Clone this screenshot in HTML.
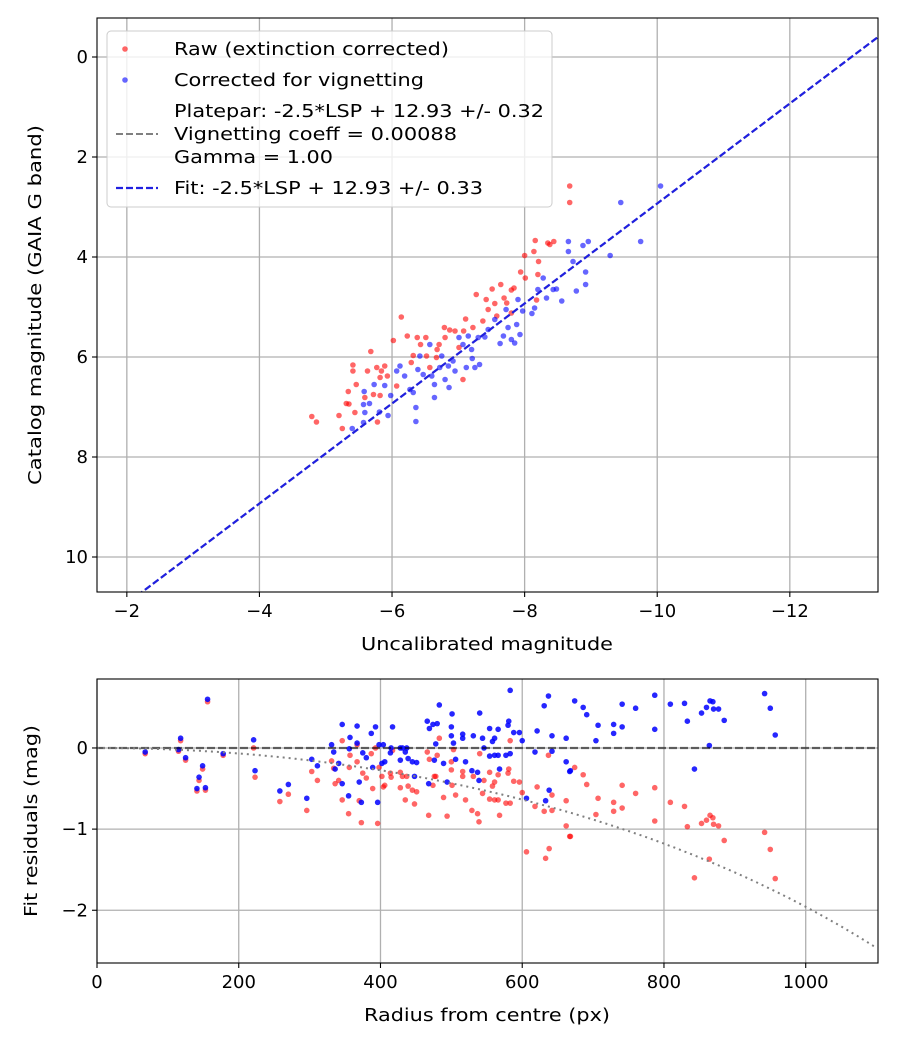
<!DOCTYPE html>
<html><head><meta charset="utf-8">
<style>
html,body{margin:0;padding:0;background:#fff;}
svg{display:block;font-family:"DejaVu Sans","Liberation Sans",sans-serif;}
</style></head>
<body>
<svg id="fig" width="900" height="1050" viewBox="0 0 900 1050" xmlns="http://www.w3.org/2000/svg">
<rect width="900" height="1050" fill="#fff"/>
<g id="topchart"></g>
<g id="botchart"></g>
</svg>
<script>
// ---- Top chart data (uncalibrated mag, catalog mag) ----
const rawX = [-4.79,-4.86,-5.25,-5.20,-5.31,-5.35,-5.34,-5.41,-5.41,-5.46,-5.44,-5.59,-5.63,-5.68,-5.72,-5.78,-5.77,-5.82,-5.84,-5.89,-5.93,-5.82,-6.02,-6.14,-6.07,-6.23,-6.29,-6.32,-6.38,-6.43,-6.51,-6.52,-6.57,-6.67,-6.71,-6.68,-6.80,-6.79,-6.87,-6.95,-7.01,-7.08,-7.11,-7.22,-7.07,-7.27,-7.37,-7.42,-7.45,-7.51,-7.55,-7.58,-7.64,-7.69,-7.73,-7.80,-7.84,-7.94,-8.01,-8.00,-8.14,-8.16,-8.21,-8.20,-8.35,-8.44,-8.38,-8.18,-7.80,-8.68,-8.68];
const rawY = [7.19,7.30,7.43,7.17,6.93,6.94,6.69,6.16,6.28,6.55,7.11,6.81,6.28,5.89,6.75,7.30,6.21,6.41,6.28,6.18,6.38,6.77,5.67,5.20,6.58,5.58,6.11,5.97,5.61,5.75,5.61,5.98,6.21,6.01,5.75,5.85,5.61,5.41,5.46,5.48,5.81,5.48,5.24,5.41,6.45,4.75,5.28,4.85,5.05,4.64,4.93,5.18,4.55,4.82,4.92,4.66,4.62,4.30,4.42,3.97,3.89,3.67,4.09,4.35,3.72,3.69,3.75,4.86,5.12,2.58,2.91];
const corX = [-5.40,-5.57,-5.59,-5.57,-5.58,-5.66,-5.73,-5.81,-5.94,-5.89,-5.98,-6.07,-6.12,-6.19,-6.27,-6.32,-6.36,-6.36,-6.39,-6.42,-6.47,-6.57,-6.60,-6.64,-6.64,-6.72,-6.75,-6.80,-6.85,-6.86,-6.92,-6.95,-7.01,-7.07,-7.12,-7.15,-7.20,-7.21,-7.25,-7.30,-7.32,-7.40,-7.45,-7.55,-7.63,-7.68,-7.72,-7.75,-7.80,-7.85,-7.88,-7.93,-7.90,-7.97,-8.11,-8.15,-8.20,-8.28,-8.33,-8.43,-8.48,-8.56,-8.66,-8.66,-8.73,-8.78,-8.88,-8.92,-8.92,-8.96,-9.29,-9.45,-10.05,-9.75];
const corY = [7.43,7.31,7.11,6.95,6.69,6.93,6.55,7.10,7.17,6.57,6.77,6.28,6.18,6.38,6.65,6.71,7.01,7.29,6.25,5.98,6.35,5.75,6.38,6.55,6.81,6.21,5.98,6.45,6.18,6.61,6.08,6.28,5.61,5.75,6.21,5.58,5.85,6.03,6.21,5.61,6.15,5.60,5.45,5.25,5.73,5.58,5.05,5.41,5.65,5.72,5.35,5.55,4.85,5.08,5.13,5.02,4.65,4.42,4.82,4.65,4.64,4.88,3.69,3.89,4.09,4.68,3.77,4.30,4.55,3.69,3.97,2.91,2.58,3.69];
const fitOffset = 12.93;
const xTicksTop = [-2,-4,-6,-8,-10,-12];
const yTicksTop = [0,2,4,6,8,10];

// ---- Bottom chart data (radius px, residual mag) ----
const radius = [68,118,115,125,149,144,141,153,156,178,221,223,258,270,296,303,311,331,334,336,341,346,346,355,357,356,367,367,370,373,375,380,387,389,393,396,398,404,402,406,414,417,415,428,428,431,435,437,439,445,448,451,466,469,474,480,478,483,468,476,489,494,500,500,501,503,506,516,516,520,529,531,537,539,540,544,546,554,554,558,561,561,566,566,568,577,580,581,583,583,588,596,600,606,618,621,631,637,633,638,642,642,662,662,667,674,686,691,707,704,729,729,741,741,760,787,787,809,829,833,843,853,860,865,869,870,877,864,885,942,950,957,668];
const rawRes = [-0.07,0.09,-0.04,-0.15,-0.26,-0.40,-0.53,-0.52,0.57,-0.09,0.00,-0.36,-0.66,-0.57,-0.77,-0.29,-0.40,-0.16,-0.25,-0.44,-0.40,0.09,-0.64,-0.81,-0.09,-0.24,-0.17,0.04,-0.65,-0.92,-0.31,-0.37,-0.07,-0.50,0.00,-0.93,-0.24,-0.48,-0.35,-0.46,-0.31,-0.03,-0.36,-0.30,-0.49,-0.35,-0.64,-0.35,-0.47,-0.52,-0.69,-0.54,-0.05,-0.14,-0.46,-0.09,-0.35,0.12,-0.83,-0.35,-0.61,-0.84,-0.27,-0.17,-0.46,-0.02,-0.58,-0.35,-0.29,-0.64,-0.77,-0.35,-0.81,-0.91,-0.07,-0.56,-0.40,-0.30,-0.63,-0.47,-0.42,-0.64,-0.64,-0.33,-0.83,-0.68,-0.31,-0.26,0.09,-0.68,-0.41,-0.42,-0.55,-1.28,-0.72,-0.48,-0.78,-0.09,-1.36,-1.24,-0.77,-0.58,-0.96,-0.65,-1.09,-0.24,-0.33,-0.45,-0.62,-0.82,-0.67,-0.78,-0.46,-0.74,-0.56,-0.49,-0.90,-0.67,-0.72,-0.97,-1.60,-0.93,-0.89,-0.83,-0.86,-0.94,-0.96,-1.37,-1.14,-1.04,-1.25,-1.61,-1.09];
const corRes = [-0.05,0.12,-0.02,-0.12,-0.22,-0.36,-0.50,-0.49,0.60,-0.07,0.10,-0.28,-0.53,-0.45,-0.62,-0.14,-0.22,0.04,-0.05,-0.26,-0.19,0.29,-0.44,-0.59,0.13,-0.01,0.06,0.27,-0.42,-0.67,-0.06,-0.12,0.18,-0.24,0.26,-0.67,0.04,0.04,-0.19,-0.17,-0.06,0.26,0.00,0.00,-0.15,0.00,-0.05,0.00,-0.13,-0.17,-0.35,-0.18,0.33,0.24,0.29,0.30,0.05,0.53,-0.44,-0.15,-0.19,-0.42,0.26,0.15,0.42,0.06,-0.14,0.17,0.12,-0.17,-0.28,0.15,-0.30,-0.40,0.43,0.12,0.00,0.24,-0.10,0.08,0.12,-0.09,-0.09,0.23,-0.26,-0.09,0.28,0.33,0.71,-0.07,0.19,0.19,0.09,-0.62,-0.05,0.21,0.52,0.64,-0.65,-0.52,0.15,-0.04,-0.17,0.12,-0.29,0.58,0.50,0.41,0.28,0.09,0.29,0.18,0.54,0.26,0.49,0.65,0.23,0.54,0.55,0.33,-0.26,0.43,0.50,0.58,0.57,0.48,0.48,0.03,0.34,0.67,0.49,0.16,-0.28];
const vignCoeff = 0.00088;
const xTicksBot = [0,200,400,600,800,1000];
const yTicksBot = [0,-1,-2];

const NS = "http://www.w3.org/2000/svg";
function mk(parent, tag, attrs, text){
  const e = document.createElementNS(NS, tag);
  for (const k in attrs) e.setAttribute(k, attrs[k]);
  if (text !== undefined) e.textContent = text;
  parent.appendChild(e);
  return e;
}
function lbl(parent, x, y, len, text, extra){
  const a = Object.assign({x:x,y:y,'font-size':17.5,textLength:len,lengthAdjust:'spacingAndGlyphs'}, extra||{});
  return mk(parent,'text',a,text);
}

// ===== TOP =====
const T = {l:97, r:878, t:18, b:592, x0:-1.55, x1:-13.33, y0:-0.78, y1:10.7};
const tx = v => T.l + (v - T.x0) / (T.x1 - T.x0) * (T.r - T.l);
const ty = v => T.t + (v - T.y0) / (T.y1 - T.y0) * (T.b - T.t);
const topG = document.getElementById('topchart');
xTicksTop.forEach(v => {
  const g = mk(topG,'g',{});
  
  
  mk(g,'line',{x1:tx(v),x2:tx(v),y1:T.t,y2:T.b,stroke:'#b0b0b0','stroke-width':1.3});
  mk(g,'line',{x1:tx(v),x2:tx(v),y1:T.b,y2:T.b+5,stroke:'#000','stroke-width':1.1});
  mk(g,'text',{x:tx(v),y:T.b+25,'text-anchor':'middle','font-size':18},(v<0?'\u2212'+(-v):v));
});
yTicksTop.forEach(v => {
  const g = mk(topG,'g',{});
  
  
  mk(g,'line',{x1:T.l,x2:T.r,y1:ty(v),y2:ty(v),stroke:'#b0b0b0','stroke-width':1.3});
  mk(g,'line',{x1:T.l-5,x2:T.l,y1:ty(v),y2:ty(v),stroke:'#000','stroke-width':1.1});
  mk(g,'text',{x:T.l-9,y:ty(v)+6,'text-anchor':'end','font-size':18},v);
});
const cp = mk(mk(topG,'defs',{}),'clipPath',{id:'cpTop'});
mk(cp,'rect',{x:T.l,y:T.t,width:T.r-T.l,height:T.b-T.t});
const tp = mk(topG,'g',{'clip-path':'url(#cpTop)'});
rawX.forEach((x,i) => {
  const c = mk(tp,'circle',{cx:tx(x),cy:ty(rawY[i]),r:2.8,fill:'#ff0000','fill-opacity':0.6});
  
  
});
corX.forEach((x,i) => {
  const c = mk(tp,'circle',{cx:tx(x),cy:ty(corY[i]),r:2.8,fill:'#0000ff','fill-opacity':0.6});
  
  
});
const plate = mk(tp,'line',{x1:tx(T.x0),y1:ty(T.x0+fitOffset),x2:tx(T.x1),y2:ty(T.x1+fitOffset),stroke:'#808080','stroke-width':2,'stroke-dasharray':'7,3'});


const fit = mk(tp,'line',{x1:tx(T.x0),y1:ty(T.x0+fitOffset),x2:tx(T.x1),y2:ty(T.x1+fitOffset),stroke:'#2020e0','stroke-width':2.2,'stroke-dasharray':'7,3'});


mk(topG,'rect',{x:T.l,y:T.t,width:T.r-T.l,height:T.b-T.t,fill:'none',stroke:'#000','stroke-width':1.1});
// legend
const lg = mk(topG,'g',{});


mk(lg,'rect',{x:107,y:31,width:445,height:176,rx:4,fill:'#fff','fill-opacity':0.8,stroke:'#ccc'});
mk(lg,'circle',{cx:125,cy:49,r:2.8,fill:'#ff0000','fill-opacity':0.6});
lbl(lg,174,55,275,'Raw (extinction corrected)');
mk(lg,'circle',{cx:125,cy:80,r:2.8,fill:'#0000ff','fill-opacity':0.6});
lbl(lg,174,86,250,'Corrected for vignetting');
mk(lg,'line',{x1:116,x2:158,y1:134,y2:134,stroke:'#808080','stroke-width':2,'stroke-dasharray':'7,3'});
lbl(lg,174,117,370,'Platepar: -2.5*LSP + 12.93 +/- 0.32');
lbl(lg,174,140,283,'Vignetting coeff = 0.00088');
lbl(lg,174,163,159,'Gamma = 1.00');
mk(lg,'line',{x1:116,x2:158,y1:188,y2:188,stroke:'#2020e0','stroke-width':2.2,'stroke-dasharray':'7,3'});
lbl(lg,174,194,309,'Fit: -2.5*LSP + 12.93 +/- 0.33');
const xl1 = lbl(topG,361,650,252,'Uncalibrated magnitude');


const yl1 = lbl(topG,-180,0,360,'Catalog magnitude (GAIA G band)',{transform:'translate(41,305) rotate(-90)'});



// ===== BOTTOM =====
const B = {l:97, r:878, t:679, b:963, x0:0, x1:1102, y0:0.85, y1:-2.65};
const bx = v => B.l + (v - B.x0) / (B.x1 - B.x0) * (B.r - B.l);
const by = v => B.t + (v - B.y0) / (B.y1 - B.y0) * (B.b - B.t);
const botG = document.getElementById('botchart');
xTicksBot.forEach(v => {
  const g = mk(botG,'g',{});
  
  
  mk(g,'line',{x1:bx(v),x2:bx(v),y1:B.t,y2:B.b,stroke:'#b0b0b0','stroke-width':1.3});
  mk(g,'line',{x1:bx(v),x2:bx(v),y1:B.b,y2:B.b+5,stroke:'#000','stroke-width':1.1});
  mk(g,'text',{x:bx(v),y:B.b+25,'text-anchor':'middle','font-size':18},v);
});
yTicksBot.forEach(v => {
  const g = mk(botG,'g',{});
  
  
  mk(g,'line',{x1:B.l,x2:B.r,y1:by(v),y2:by(v),stroke:'#b0b0b0','stroke-width':1.3});
  mk(g,'line',{x1:B.l-5,x2:B.l,y1:by(v),y2:by(v),stroke:'#000','stroke-width':1.1});
  mk(g,'text',{x:B.l-9,y:by(v)+6,'text-anchor':'end','font-size':18},(v<0?'\u2212'+(-v):v));
});
const cp2 = mk(mk(botG,'defs',{}),'clipPath',{id:'cpBot'});
mk(cp2,'rect',{x:B.l,y:B.t,width:B.r-B.l,height:B.b-B.t});
const bp = mk(botG,'g',{'clip-path':'url(#cpBot)'});
radius.forEach((r,i) => {
  const c = mk(bp,'circle',{cx:bx(r),cy:by(rawRes[i]),r:2.8,fill:'#ff0000','fill-opacity':0.6});
  
  
});
radius.forEach((r,i) => {
  const c = mk(bp,'circle',{cx:bx(r),cy:by(corRes[i]),r:2.8,fill:'#0000ff','fill-opacity':0.85});
  
  
});
const zl = mk(bp,'line',{x1:B.l,x2:B.r,y1:by(0),y2:by(0),stroke:'#000','stroke-opacity':0.55,'stroke-width':2.2,'stroke-dasharray':'8,3'});


let d = '';
for (let r = 0; r <= 1102; r += 5) {
  const v = 10 * Math.log10(Math.cos(vignCoeff * r));
  d += (r ? 'L' : 'M') + bx(r).toFixed(1) + ',' + by(v).toFixed(1);
}
const vc = mk(bp,'path',{d:d,fill:'none',stroke:'#808080','stroke-width':2,'stroke-dasharray':'2,4'});


mk(botG,'rect',{x:B.l,y:B.t,width:B.r-B.l,height:B.b-B.t,fill:'none',stroke:'#000','stroke-width':1.1});
const xl2 = lbl(botG,364,1021,246,'Radius from centre (px)');


const yl2 = lbl(botG,-96,0,192,'Fit residuals (mag)',{transform:'translate(37,821) rotate(-90)'});


</script>
</body></html>
